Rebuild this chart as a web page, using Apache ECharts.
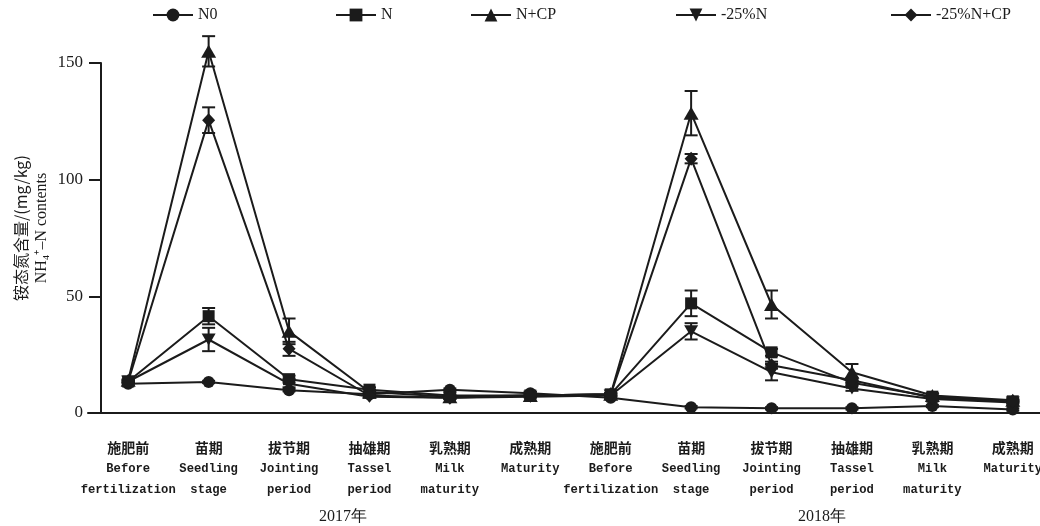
<!DOCTYPE html>
<html>
<head>
<meta charset="utf-8">
<script src="https://cdn.jsdelivr.net/npm/echarts@6/dist/echarts.min.js"></script>
<style>html,body{margin:0;padding:0;background:#fff}#c{width:1040px;height:526px}</style>
</head>
<body>
<div id="c"></div>
<script>
// ---- data ----
const stageCN = ['施肥前','苗期','拔节期','抽雄期','乳熟期','成熟期','施肥前','苗期','拔节期','抽雄期','乳熟期','成熟期'];
const stageEN1 = ['Before','Seedling','Jointing','Tassel','Milk','Maturity','Before','Seedling','Jointing','Tassel','Milk','Maturity'];
const stageEN2 = ['fertilization','stage','period','period','maturity','','fertilization','stage','period','period','maturity',''];
const years = ['2017年','2018年'];
const seriesNames = ['N0','N','N+CP','-25%N','-25%N+CP'];
const valN0     = [12.5, 13.3, 9.8, 8, 10, 8.5, 6.5, 2.5, 2, 2, 3, 1.5];
const valN      = [13.5, 41.5, 14.5, 10, 7.5, 7.5, 8, 47, 26, 13, 7, 5];
const valNCP    = [14, 155, 35, 9, 7, 7.5, 8, 128.5, 46.5, 17.5, 7.5, 5.5];
const val25N    = [13.5, 31.5, 12.5, 7, 6.5, 7, 7.5, 35, 17.5, 10.5, 6, 4.5];
const val25NCP  = [13.5, 125.5, 27.5, 7.5, 6.5, 7.5, 8, 109, 20.5, 14, 6.5, 5];
const sdN0      = [0.5, 0.5, 0.5, 0.5, 0.5, 0.5, 0.5, 0.5, 0.5, 0.5, 0.5, 0.5];
const sdN       = [0.5, 3.5, 1.5, 1, 0.5, 0.5, 0.5, 5.5, 1.5, 1, 0.5, 0.5];
const sdNCP     = [0.5, 6.5, 5.5, 1, 0.5, 0.5, 0.5, 9.5, 6, 3.5, 1, 0.5];
const sd25N     = [0.5, 5, 1.5, 0.5, 0.5, 0.5, 0.5, 3.5, 3.5, 1, 0.5, 0.5];
const sd25NCP   = [0.5, 5.5, 3, 0.5, 0.5, 0.5, 0.5, 2, 1.5, 1, 0.5, 0.5];
const yTicks = [0, 50, 100, 150];

const values = [valN0, valN, valNCP, val25N, val25NCP];
const sds = [sdN0, sdN, sdNCP, sd25N, sd25NCP];
const symbols = ['circle','rect','triangle','path://M0,0 L10,0 L5,9 Z','diamond'];
const symSizes = [12, 12, [15,13], [14,12], [13,14]];
const legendLeft = [152, 335, 470, 675, 890];
const INK = '#1b1b1b';

const chart = echarts.init(document.getElementById('c'));
const lineSeries = seriesNames.map((n, k) => ({
  name: n, type: 'line', data: values[k], symbol: symbols[k], symbolSize: symSizes[k],
  clip: false, z: 3,
  lineStyle: {color: INK, width: 2}, itemStyle: {color: INK, borderWidth: 0}
}));
const errSeries = seriesNames.map((n, k) => ({
  name: n + '_err', type: 'custom', clip: false, z: 2,
  data: values[k].map((v, i) => [i, v, sds[k][i]]),
  encode: {x: 0, y: 1},
  renderItem: function (params, api) {
    const i = api.value(0), v = api.value(1), s = api.value(2);
    const t = api.coord([i, v + s]), b = api.coord([i, v - s]);
    const hw = 6.5;
    const st = {stroke: INK, lineWidth: 2};
    return {type: 'group', children: [
      {type: 'line', shape: {x1: t[0], y1: t[1], x2: b[0], y2: b[1]}, style: st},
      {type: 'line', shape: {x1: t[0]-hw, y1: t[1], x2: t[0]+hw, y2: t[1]}, style: st},
      {type: 'line', shape: {x1: b[0]-hw, y1: b[1], x2: b[0]+hw, y2: b[1]}, style: st}
    ]};
  }
}));

const option = {
  animation: false,
  backgroundColor: '#fff',
  legend: seriesNames.map((n, k) => ({
    data: [n], left: legendLeft[k], top: 7, padding: 0, itemWidth: 40, itemHeight: 16, itemGap: 4,
    textStyle: {fontFamily: 'Liberation Serif', fontSize: 16, color: INK}
  })),
  grid: {left: 88, top: 63, width: 965, bottom: 113, outerBoundsMode: 'none', containLabel: false},
  xAxis: {
    type: 'category', data: stageCN, boundaryGap: true,
    axisLine: {lineStyle: {color: INK, width: 2}},
    axisTick: {alignWithLabel: true, length: 10, lineStyle: {color: INK, width: 2}},
    axisLabel: {
      interval: 0, margin: 24,
      formatter: function (val, idx) {
        let s = '{cn|' + stageCN[idx] + '}\n{en|' + stageEN1[idx] + '}';
        if (stageEN2[idx]) s += '\n{en|' + stageEN2[idx] + '}';
        return s;
      },
      rich: {
        cn: {fontFamily: 'Noto Sans CJK SC', fontSize: 14, lineHeight: 21, color: INK, fontWeight: 'bold'},
        en: {fontFamily: 'Liberation Mono', fontSize: 12.2, lineHeight: 21, color: INK, fontWeight: 'bold'}
      }
    }
  },
  yAxis: {
    type: 'value', min: 0, max: 150, interval: 50, offset: -13,
    axisLine: {show: true, lineStyle: {color: INK, width: 2}},
    axisTick: {show: true, length: 12, lineStyle: {color: INK, width: 2}},
    splitLine: {show: false},
    axisLabel: {margin: 18, fontFamily: 'Liberation Serif', fontSize: 17, color: INK,
      formatter: function (v) { return yTicks.indexOf(v) >= 0 ? String(v) : ''; }}
  },
  graphic: [
    {type: 'text', x: 21, y: 228, rotation: Math.PI / 2,
      style: {text: '铵态氮含量/(mg/kg)', fontFamily: 'Noto Sans CJK SC', fontSize: 16, fill: INK, align: 'center', verticalAlign: 'middle'}},
    {type: 'text', x: 42, y: 228, rotation: Math.PI / 2,
      style: {text: 'NH₄⁺–N contents', fontFamily: 'Liberation Serif', fontSize: 16, fill: INK, align: 'center', verticalAlign: 'middle'}},
    {type: 'text', x: 343, y: 517,
      style: {text: years[0], fontFamily: 'Liberation Serif', fontSize: 16, fill: INK, align: 'center', verticalAlign: 'middle'}},
    {type: 'text', x: 822, y: 517,
      style: {text: years[1], fontFamily: 'Liberation Serif', fontSize: 16, fill: INK, align: 'center', verticalAlign: 'middle'}}
  ],
  series: errSeries.concat(lineSeries)
};
chart.setOption(option);
</script>
</body>
</html>
